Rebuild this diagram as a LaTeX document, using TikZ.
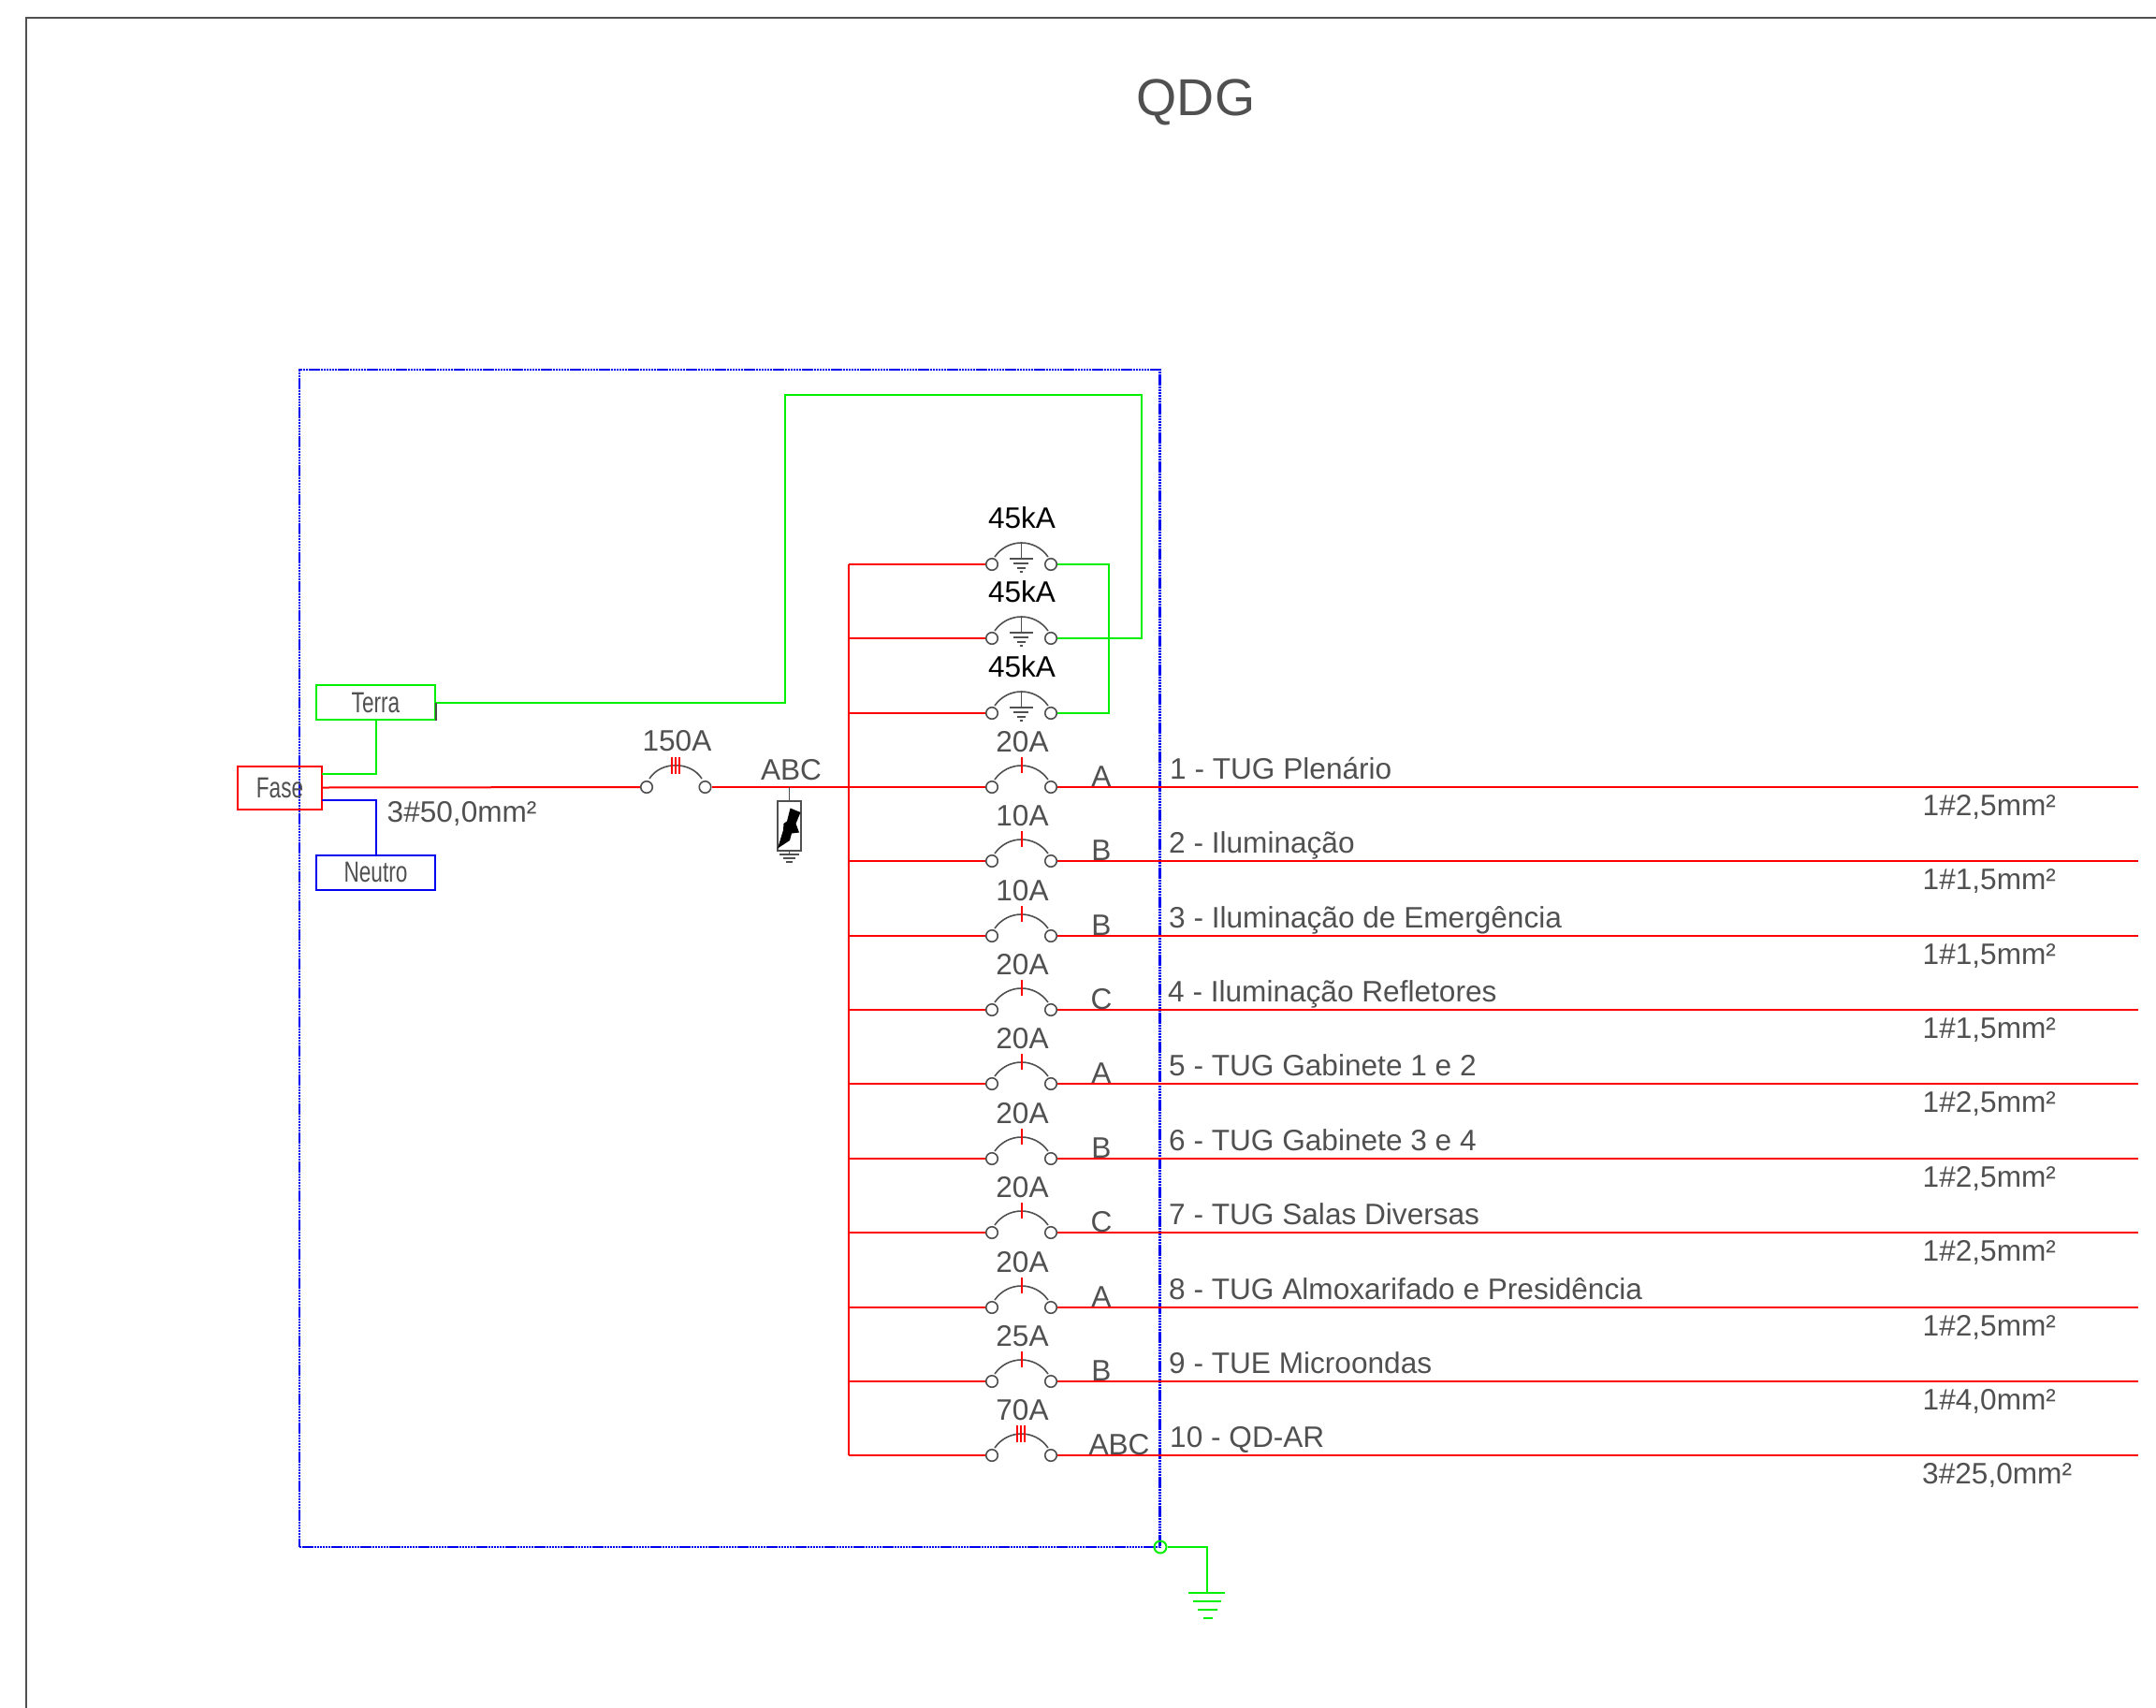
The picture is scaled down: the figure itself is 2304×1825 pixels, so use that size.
\documentclass[tikz,border=0pt]{standalone}
\usepackage{fontspec}
\setmainfont{Liberation Sans}
\definecolor{ink}{HTML}{505050}
\definecolor{wred}{HTML}{FF0000}
\definecolor{wgreen}{HTML}{00F000}
\definecolor{wblue}{HTML}{0000F0}
\tikzset{
  txt/.style={font=\fontsize{31.6}{36}\selectfont,text=ink,inner sep=0pt},
  tag/.style={txt,anchor=base},
  lefttag/.style={txt,anchor=base west},
  term/.style={circle,draw=ink,fill=white,line width=1.6pt,inner sep=0pt,minimum size=12.5pt},
  redw/.style={draw=wred,line width=2pt},
  greenw/.style={draw=wgreen,line width=2pt},
  bluew/.style={draw=wblue,line width=2pt},
  symb/.style={draw=ink,line width=1.6pt},
  tick/.style={draw=wred,line width=2pt},
  bx/.style={minimum width=127pt,minimum height=37pt,inner sep=0pt,line width=2pt,fill=none},
  cond/.style={text=ink,font=\fontsize{31}{36}\selectfont}
}
\newcommand{\narrow}[1]{\scalebox{0.73}[1]{#1}}
\begin{document}
\begin{tikzpicture}[x=1pt,y=-1pt]
\useasboundingbox (0,0) rectangle (2304,1825);
% sheet frame
\coordinate (fbl) at (28,1825);
\coordinate (ftl) at (28,19);
\coordinate (ftr) at (2304,19);
\draw[draw=ink,line width=1.6pt] (fbl) -- (ftl) -- (ftr);
\node[txt,anchor=base,font=\fontsize{55.5}{60}\selectfont] (title) at (1278,124) {QDG};
% panel
\node[draw=wblue,line width=2.4pt,dash pattern=on 2.4pt off 0.7pt,outer sep=0pt,minimum width=919.5pt,minimum height=1258pt,inner sep=0pt,anchor=north west] (panel) at (320,395) {};
% boxes
\node[bx,draw=wgreen,cond] (terra) at (401.5,750.5) {\narrow{Terra}};
\node[bx,draw=wblue,cond] (neutro) at (401.5,932) {\narrow{Neutro}};
\node[draw=wred,line width=2pt,minimum width=90pt,minimum height=46pt,inner sep=0pt,cond] (fase) at (299,841.5) {\narrow{Fase}};
\coordinate (fg) at (344,827);
\coordinate (fb) at (344,855);
\draw[greenw] (fg) -| (terra.south);
\draw[bluew] (fb) -| (neutro.north);
\node[lefttag] (cable) at (413.5,878.5) {3\#50,0mm²};
% main breaker
\node[term] (mL) at (691,841) {};
\node[term] (mR) at (753.5,841) {};
\coordinate (bus4) at (906.5,841);
\draw[redw] (fase.east) -- (mL);
\draw[redw] (mR) -- (bus4);
\draw[symb] (694,832) .. controls (706,813) and (738,813) .. (750,832);
\foreach \x in {718,722,726} \draw[tick,line width=1.6pt] (\x,809) -- (\x,827);
\node[tag] (main) at (723.5,802.5) {150A};
% surge protector
\node[tag] (abc) at (845.5,833.5) {ABC};
\coordinate (dpsT) at (843.5,841);
\node[draw=ink,line width=1.6pt,minimum width=25pt,minimum height=53pt,inner sep=0pt] (dps) at (843.5,882.5) {};
\coordinate (dpsG) at (843.5,913);
\draw[symb] (dpsT) -- (dps.north);
\draw[symb] (dps.south) -- (dpsG);
\draw[symb] (833,913) -- (854,913) (837,917) -- (850,917) (840,921) -- (847,921);
\fill[black] (844.5,863.5) -- (855.5,868) -- (850.5,880) -- (854,889.5) -- (846,890.5) -- (844,898) -- (831,906.5) -- (837,887) -- (837.5,880) -- (841,877.5) -- cycle;
% bus and green links
\coordinate (busT) at (906.5,603);
\coordinate (busB) at (906.5,1555);
\draw[redw] (busT) -- (busB);
% surge breakers
\foreach \n/\y in {1/603,2/682,3/762}{
  \node[term] (sL\n) at (1060,\y) {};
  \node[term] (sR\n) at (1123,\y) {};
  \coordinate (sb\n) at (906.5,\y);
  \draw[redw] (sb\n) -- (sL\n);
  \draw[symb] (1063,\y-8) .. controls (1077,\y-28) and (1106,\y-28) .. (1120,\y-8);
  \draw[symb] (1091.5,\y-23) -- (1091.5,\y-6);
  \draw[symb] (1079,\y-6) -- (1104,\y-6) (1083,\y-1) -- (1099,\y-1) (1087,\y+4) -- (1096,\y+4) (1090,\y+8) -- (1093,\y+8);
  \node[tag,text=black] (sa\n) at (1092,\y-38.5) {45kA};
}
\coordinate (gv) at (1185,603);
\coordinate (gv3) at (1185,762);
\draw[greenw] (sR1) -- (gv) -- (gv3) -- (sR3);
\coordinate (g1) at (1219.5,682);
\coordinate (g2) at (1219.5,422);
\coordinate (g3) at (838.5,422);
\coordinate (g4) at (838.5,750.5);
\draw[greenw] (sR2) -- (g1) -- (g2) -- (g3) -- (g4) -- (terra.east);
\draw[draw=black!70,line width=2pt] (terra.east) -- (terra.south east);
% circuit rows
\foreach \n/\y/\a/\p/\lx/\lbl/\cab in {
 1/841/20A/A/1250/{1 - TUG Plenário}/{1\#2,5mm²},
 2/920/10A/B/1249/{2 - Iluminação}/{1\#1,5mm²},
 3/1000/10A/B/1249/{3 - Iluminação de Emergência}/{1\#1,5mm²},
 4/1079/20A/C/1248/{4 - Iluminação Refletores}/{1\#1,5mm²},
 5/1158/20A/A/1249/{5 - TUG Gabinete 1 e 2}/{1\#2,5mm²},
 6/1238/20A/B/1249/{6 - TUG Gabinete 3 e 4}/{1\#2,5mm²},
 7/1317/20A/C/1249/{7 - TUG Salas Diversas}/{1\#2,5mm²},
 8/1397/20A/A/1249/{8 - TUG Almoxarifado e Presidência}/{1\#2,5mm²},
 9/1476/25A/B/1249/{9 - TUE Microondas}/{1\#4,0mm²}}{
  \node[term] (L\n) at (1060,\y) {};
  \node[term] (R\n) at (1123,\y) {};
  \coordinate (bus\n) at (906.5,\y);
  \coordinate (end\n) at (2285,\y);
  \draw[redw] (bus\n) -- (L\n);
  \draw[redw] (R\n) -- (end\n);
  \draw[symb] (1063,\y-8) .. controls (1077,\y-28) and (1106,\y-28) .. (1120,\y-8);
  \draw[tick] (1091.5,\y-32) -- (1091.5,\y-15);
  \node[tag] (amp\n) at (1092.5,\y-38) {\a};
  \node[tag] (ph\n) at (1177,\y-1) {\p};
  \node[lefttag] (name\n) at (\lx,\y-9) {\lbl};
  \node[lefttag] (cab\n) at (2054.5,\y+30.5) {\cab};
}
% row 10
\node[term] (L10) at (1060,1555) {};
\node[term] (R10) at (1123,1555) {};
\coordinate (bus10) at (906.5,1555);
\coordinate (end10) at (2285,1555);
\draw[redw] (bus10) -- (L10);
\draw[redw] (R10) -- (end10);
\draw[symb] (1063,1547) .. controls (1077,1527) and (1106,1527) .. (1120,1547);
\foreach \x in {1087,1091,1095} \draw[tick,line width=1.6pt] (\x,1523) -- (\x,1541);
\node[tag] (amp10) at (1092.5,1517) {70A};
\node[tag] (ph10) at (1196,1554) {ABC};
\node[lefttag] (name10) at (1250,1546) {10 - QD-AR};
\node[lefttag] (cab10) at (2054,1585.5) {3\#25,0mm²};
% earth
\node[circle,draw=wgreen,line width=2pt,inner sep=0pt,minimum size=13pt] (gnd) at (1240,1653) {};
\coordinate (ge) at (1290,1702);
\draw[greenw] (gnd.east) -| (ge);
\draw[greenw] (1270,1702) -- (1309,1702) (1275,1711) -- (1305,1711) (1280,1720) -- (1301,1720) (1286,1729) -- (1296,1729);
\end{tikzpicture}
\end{document}
